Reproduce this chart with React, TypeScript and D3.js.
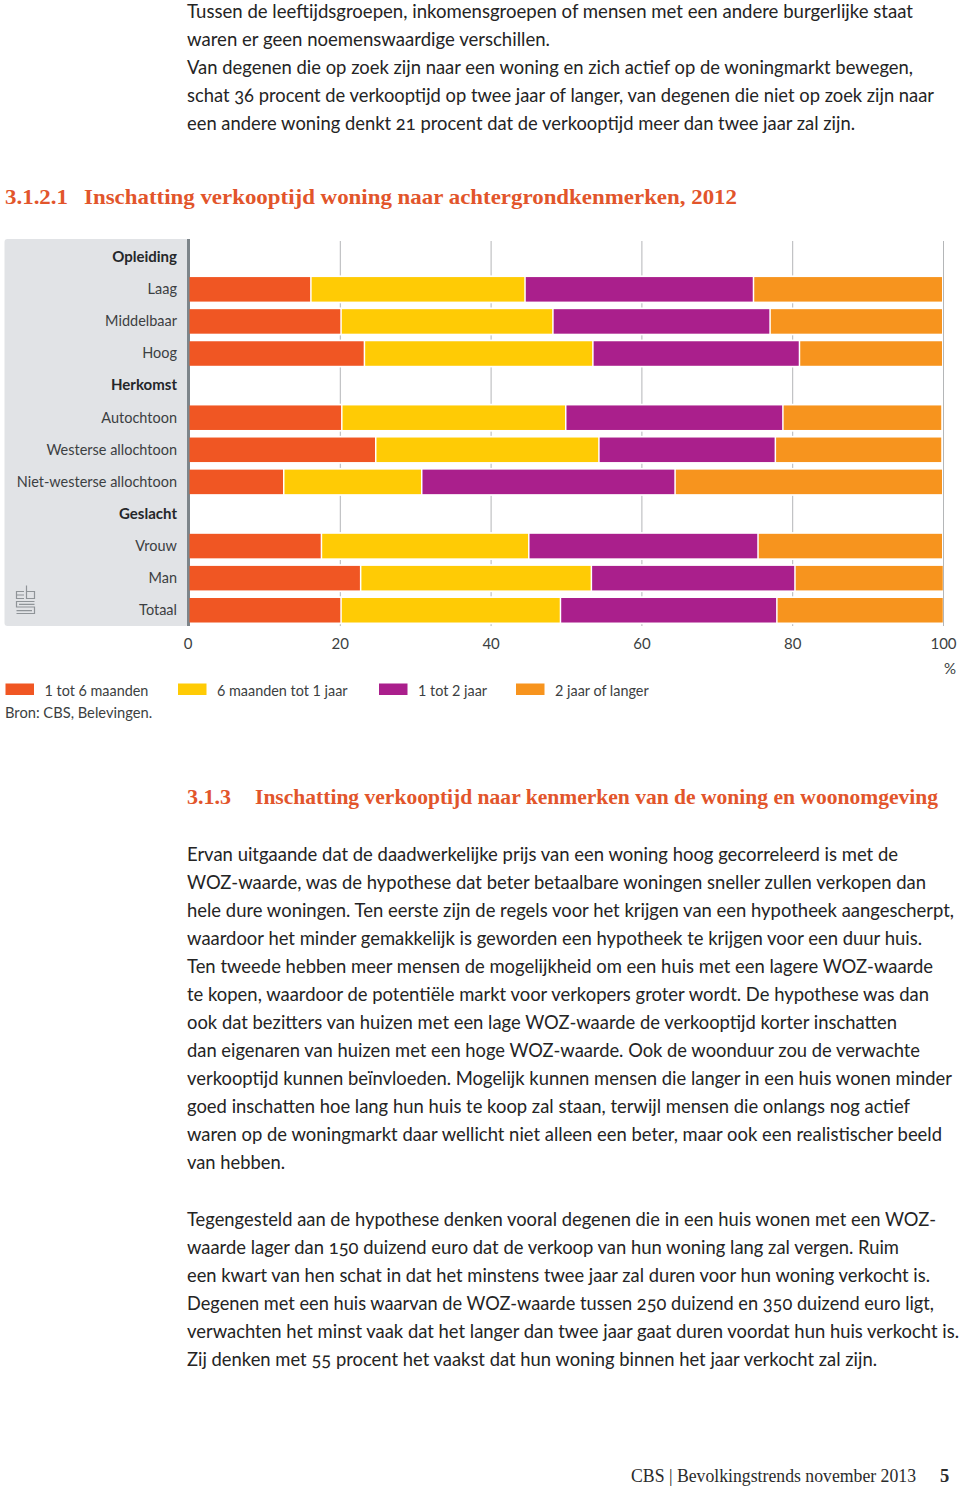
import * as d3 from "d3"

const W = 960
const H = 1487

const rows = [
  "Opleiding",
  "Laag",
  "Middelbaar",
  "Hoog",
  "Herkomst",
  "Autochtoon",
  "Westerse allochtoon",
  "Niet-westerse allochtoon",
  "Geslacht",
  "Vrouw",
  "Man",
  "Totaal",
]
const headers = ["Opleiding", "Herkomst", "Geslacht"]
const categories = rows.filter((r) => !headers.includes(r))

const tot6Maanden = [16.0, 20.0, 23.1, 20.1, 24.6, 12.4, 17.4, 22.6, 20.0]
const tot1Jaar = [28.4, 28.1, 30.3, 29.7, 29.6, 18.3, 27.5, 30.6, 29.1]
const tot2Jaar = [30.3, 28.8, 27.4, 28.8, 23.4, 33.6, 30.4, 27.0, 28.7]
const langer = [25.1, 22.9, 19.0, 21.1, 22.1, 35.5, 24.5, 19.7, 22.1]

const seriesNames = ["1 tot 6 maanden", "6 maanden tot 1 jaar", "1 tot 2 jaar", "2 jaar of langer"]
const seriesValues = [tot6Maanden, tot1Jaar, tot2Jaar, langer]
const seriesColors = ["#f05623", "#ffcb05", "#aa1f8c", "#f7941e"]
const legendSwatchX = [5.5, 178, 379, 516]
const xTicks = [0, 20, 40, 60, 80, 100]

const intro = [
  "Tussen de leeftijdsgroepen, inkomensgroepen of mensen met een andere burgerlijke staat",
  "waren er geen noemenswaardige verschillen.",
  "Van degenen die op zoek zijn naar een woning en zich actief op de woningmarkt bewegen,",
  "schat 36 procent de verkooptijd op twee jaar of langer, van degenen die niet op zoek zijn naar",
  "een andere woning denkt 21 procent dat de verkooptijd meer dan twee jaar zal zijn.",
]
const introEnds = [913, 550, 913, 934, 855]

const para1 = [
  "Ervan uitgaande dat de daadwerkelijke prijs van een woning hoog gecorreleerd is met de",
  "WOZ-waarde, was de hypothese dat beter betaalbare woningen sneller zullen verkopen dan",
  "hele dure woningen. Ten eerste zijn de regels voor het krijgen van een hypotheek aangescherpt,",
  "waardoor het minder gemakkelijk is geworden een hypotheek te krijgen voor een duur huis.",
  "Ten tweede hebben meer mensen de mogelijkheid om een huis met een lagere WOZ-waarde",
  "te kopen, waardoor de potentiële markt voor verkopers groter wordt. De hypothese was dan",
  "ook dat bezitters van huizen met een lage WOZ-waarde de verkooptijd korter inschatten",
  "dan eigenaren van huizen met een hoge WOZ-waarde. Ook de woonduur zou de verwachte",
  "verkooptijd kunnen beïnvloeden. Mogelijk kunnen mensen die langer in een huis wonen minder",
  "goed inschatten hoe lang hun huis te koop zal staan, terwijl mensen die onlangs nog actief",
  "waren op de woningmarkt daar wellicht niet alleen een beter, maar ook een realistischer beeld",
  "van hebben.",
]
const para1Ends = [898, 926, 954, 922, 933, 929, 897, 920, 952, 910, 942, 285]

const para2 = [
  "Tegengesteld aan de hypothese denken vooral degenen die in een huis wonen met een WOZ-",
  "waarde lager dan 150 duizend euro dat de verkoop van hun woning lang zal vergen. Ruim",
  "een kwart van hen schat in dat het minstens twee jaar zal duren voor hun woning verkocht is.",
  "Degenen met een huis waarvan de WOZ-waarde tussen 250 duizend en 350 duizend euro ligt,",
  "verwachten het minst vaak dat het langer dan twee jaar gaat duren voordat hun huis verkocht is.",
  "Zij denken met 55 procent het vaakst dat hun woning binnen het jaar verkocht zal zijn.",
]
const para2Ends = [936, 899, 930, 934, 959, 877]

const sans = "Lato, 'Open Sans', sans-serif"
const serif = "'Liberation Serif', serif"
const textColor = "#242424"
const labelColor = "#3c3f42"
const headingColor = "#e2552b"

function Block({ lines, ends, y0 }: { lines: string[]; ends: number[]; y0: number }) {
  const left = 187
  return (
    <g fontFamily={sans} fontSize={18.7} fill={textColor} style={{ fontVariantNumeric: "oldstyle-nums" }}>
      {lines.map((line, i) => (
        <text
          key={line}
          x={left}
          y={y0 + i * 28}
          textLength={ends[i] - left}
          lengthAdjust="spacingAndGlyphs"
        >
          {line}
        </text>
      ))}
    </g>
  )
}

export default function App() {
  const x = d3.scaleLinear().domain([0, 100]).range([189.5, 943.5])
  const y = d3
    .scaleBand()
    .domain(rows)
    .range([241.2, 626.3])
    .paddingInner(0.236)
    .paddingOuter(0.118)

  const table = categories.map((c, i) => {
    const d: Record<string, number | string> = { name: c }
    seriesNames.forEach((s, j) => {
      d[s] = seriesValues[j][i]
    })
    return d
  })
  const stacked = d3.stack<Record<string, number | string>>().keys(seriesNames)(table as any)
  const bw = y.bandwidth()
  const gap = 1.5

  return (
    <svg
      width={W}
      height={H}
      viewBox={`0 0 ${W} ${H}`}
      style={{ position: "absolute", left: 0, top: 0, background: "#fff" }}
    >
      <Block lines={intro} ends={introEnds} y0={18} />

      <g fontFamily={serif} fontSize={22} fontWeight={700} fill={headingColor}>
        <text x={5} y={204} textLength={63} lengthAdjust="spacingAndGlyphs">3.1.2.1</text>
        <text x={84} y={204} textLength={653} lengthAdjust="spacingAndGlyphs">
          Inschatting verkooptijd woning naar achtergrondkenmerken, 2012
        </text>
        <text x={187} y={804} textLength={44} lengthAdjust="spacingAndGlyphs">3.1.3</text>
        <text x={255} y={804} textLength={683} lengthAdjust="spacingAndGlyphs">
          Inschatting verkooptijd naar kenmerken van de woning en woonomgeving
        </text>
      </g>

      {/* grey label panel */}
      <rect x={4.5} y={239} width={184} height={387} rx={3} fill="#e1e3e6" />
      <rect x={187} y={239} width={3} height={387} fill="#7d858a" />

      {/* grid lines behind the bars */}
      {xTicks.slice(1).map((t) => (
        <line key={t} x1={x(t)} x2={x(t)} y1={241} y2={626} stroke="#b4b6b8" strokeWidth={1} />
      ))}

      {categories.map((c) => (
        <rect key={c} x={x(0) + 1} y={y(c)! - 1.7} width={x(100) - x(0) - 1.5} height={bw + 3.4} fill="#fff" />
      ))}

      {stacked.map((s, j) => (
        <g key={s.key} fill={seriesColors[j]}>
          {s.map((d, i) => (
            <rect
              key={categories[i]}
              x={x(d[0]) + (j === 0 ? 0 : gap)}
              y={y(categories[i])}
              width={x(d[1]) - x(d[0]) - (j === 0 ? 0 : gap)}
              height={bw}
            />
          ))}
        </g>
      ))}

      <g fontFamily={sans} fontSize={15.5} textAnchor="end" fill={labelColor}>
        {rows.map((r) => {
          const isHeader = headers.includes(r)
          return (
            <text
              key={r}
              transform={`translate(177,${y(r)! + bw / 2 + 4.8}) scale(${isHeader ? 0.97 : 0.935},1)`}
              fontWeight={isHeader ? 700 : 400}
              fill={isHeader ? "#25272a" : labelColor}
            >
              {r}
            </text>
          )
        })}
      </g>

      {/* cbs logo */}
      <path
        d="M24 591.5H16.5V598.5H24M16.5 595H24M26.5 585.5V598.5H34.5V591.5H26.5M34.5 601.5H16.5V607H34.5V613.5H16.5M19 604.3H34.5M16.5 610.6H32"
        fill="none"
        stroke="#8f9498"
        strokeWidth={1.2}
      />

      <g fontFamily={sans} fontSize={15} fill={labelColor} textAnchor="middle">
        {xTicks.map((t) => (
          <text key={t} x={t === 0 ? 188 : x(t)} y={648.5}>
            {t}
          </text>
        ))}
        <text x={950} y={674}>%</text>
      </g>

      <g fontFamily={sans} fontSize={15} fill={labelColor}>
        {seriesNames.map((s, i) => (
          <g key={s}>
            <rect x={legendSwatchX[i]} y={683.5} width={28.5} height={11.5} fill={seriesColors[i]} />
            <text transform={`translate(${legendSwatchX[i] + 39},695.5) scale(0.96,1)`}>
              {s}
            </text>
          </g>
        ))}
        <text transform="translate(5,718) scale(0.98,1)">Bron: CBS, Belevingen.</text>
      </g>

      <Block lines={para1} ends={para1Ends} y0={861} />
      <Block lines={para2} ends={para2Ends} y0={1226} />

      <g fontFamily={serif} fontSize={18.5} fill="#2b2b2b">
        <text x={631} y={1482} textLength={285} lengthAdjust="spacingAndGlyphs">
          CBS | Bevolkingstrends november 2013
        </text>
        <text x={940} y={1482} fontWeight={700}>5</text>
      </g>
    </svg>
  )
}
